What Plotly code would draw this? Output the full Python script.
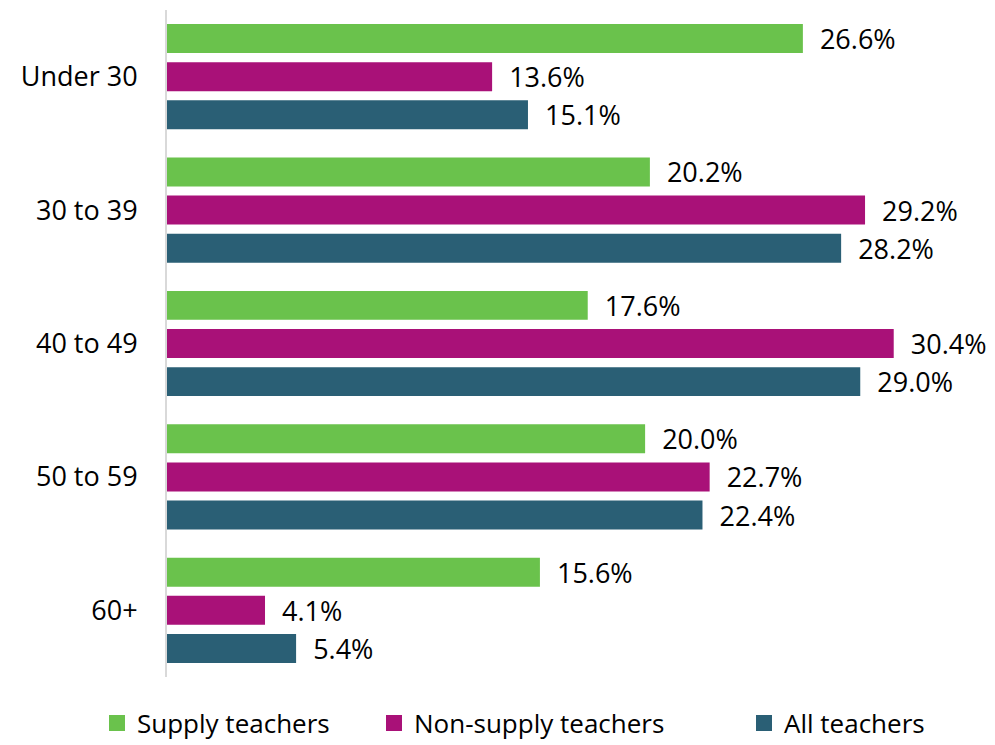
import plotly.graph_objects as go

categories = ["Under 30", "30 to 39", "40 to 49", "50 to 59", "60+"]
supply = [26.6, 20.2, 17.6, 20.0, 15.6]
non_supply = [13.6, 29.2, 30.4, 22.7, 4.1]
all_teachers = [15.1, 28.2, 29.0, 22.4, 5.4]
series_names = ["Supply teachers", "Non-supply teachers", "All teachers"]
colors = ["#6AC24C", "#A91178", "#2A5F75"]

FONT = "Open Sans, Noto Sans, sans-serif"
FS = 27
fig = go.Figure()
legend_ids = ["legend", "legend2", "legend3"]
for name, vals, col in zip(series_names, [supply, non_supply, all_teachers], colors):
    fig.add_trace(go.Bar(
        y=categories, x=vals, name=name, orientation="h",
        marker=dict(color=col, line=dict(width=0)),
        text=[f"\u00a0\u00a0{v:.1f}%" for v in vals],
        textposition="outside", cliponaxis=False, constraintext="none",
        textfont=dict(size=27, color="black", family=FONT),
        showlegend=False, hoverinfo="skip",
    ))
for name, col, lg in zip(series_names, colors, legend_ids):
    fig.add_trace(go.Scatter(
        x=[None], y=[None], mode="markers", name=name,
        marker=dict(symbol="square", size=20, color=col),
        legend=lg, showlegend=True,
    ))

legend_common = dict(orientation="h", yanchor="middle", y=1 - 723 / 745, yref="container",
                     xanchor="left", xref="container", itemsizing="trace",
                     font=dict(size=26, color="black", family=FONT),
                     bgcolor="rgba(0,0,0,0)", itemwidth=30)
fig.update_layout(
    width=995, height=745,
    margin=dict(l=167, r=20, t=10, b=68, autoexpand=False),
    paper_bgcolor="white", plot_bgcolor="white",
    barmode="group", bargap=0.143, bargroupgap=0.24,
    font=dict(family=FONT, size=FS, color="black"),
    xaxis=dict(range=[0, 33.8], visible=False, showgrid=False, zeroline=False),
    yaxis=dict(autorange="reversed", showline=True, linecolor="#D9D9D9", linewidth=2,
               ticks="", ticklabelstandoff=22, automargin=False,
               tickfont=dict(size=FS, color="black", family=FONT)),
    legend=dict(legend_common, x=97 / 995),
    legend2=dict(legend_common, x=374 / 995),
    legend3=dict(legend_common, x=744 / 995),
    showlegend=True,
)
fig.write_html("out.html", config={"displayModeBar": False},
               post_script="document.body.style.margin='0';document.body.style.overflow='hidden';")
